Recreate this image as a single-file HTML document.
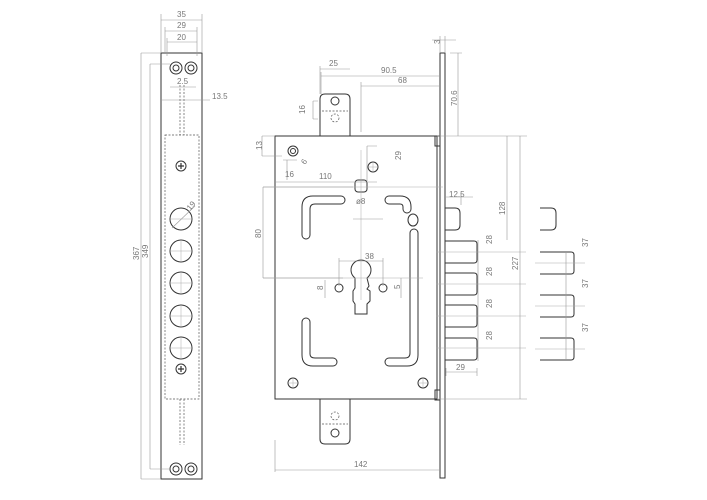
<!DOCTYPE html>
<html><head><meta charset="utf-8"><style>
html,body{margin:0;padding:0;background:#fff;}
svg{display:block}
text{font-family:"Liberation Sans",sans-serif;font-size:8px;fill:#777;}
.s{stroke:#333;stroke-width:1;fill:none}
.d{stroke:#999;stroke-width:0.6;fill:none}
.h{stroke:#555;stroke-width:0.7;fill:none;stroke-dasharray:2 1.5}
.c{stroke:#aaa;stroke-width:0.5;fill:none}
</style></head><body>
<svg width="707" height="500" viewBox="0 0 707 500" xmlns="http://www.w3.org/2000/svg">
<!-- Left bar -->
<rect class="s" x="161" y="53" width="41" height="426"/>
<rect class="h" x="165" y="135" width="34" height="264"/>
<line class="h" x1="180" y1="85" x2="180" y2="135"/><line class="h" x1="184" y1="85" x2="184" y2="135"/>
<line class="h" x1="180" y1="399" x2="180" y2="445"/><line class="h" x1="184" y1="399" x2="184" y2="445"/>
<g class="s">
<circle cx="176" cy="68" r="6"/><circle cx="176" cy="68" r="3"/>
<circle cx="191" cy="68" r="6"/><circle cx="191" cy="68" r="3"/>
<circle cx="176" cy="469" r="6"/><circle cx="176" cy="469" r="3"/>
<circle cx="191" cy="469" r="6"/><circle cx="191" cy="469" r="3"/>
<circle cx="181" cy="166" r="5"/><circle cx="181" cy="369" r="5"/>
<circle cx="181" cy="219" r="11"/><circle cx="181" cy="251" r="11"/><circle cx="181" cy="283" r="11"/><circle cx="181" cy="316" r="11"/><circle cx="181" cy="348" r="11"/>
</g>
<path d="M178 166h6M181 163v6M178 369h6M181 366v6" stroke="#333" stroke-width="1.2"/>
<g class="c"><path d="M170 219h22M170 251h22M181 240v22M170 283h22M181 272v22M170 316h22M181 305v22M170 348h22M181 337v22"/></g>
<line class="d" x1="172" y1="228" x2="195" y2="206"/>
<text x="188" y="210" transform="rotate(-50 190 208)">19</text>
<!-- Left bar dims -->
<g class="d">
<path d="M161 20h41M161 14v39M202 14v39M165 31h32M165 27v26M197 27v26M167 42h30M167 38v18M197 38v18"/>
<path d="M141 53v426M141 53h20M141 479h20M150 64v405M150 64h20M150 469h20"/>
<path d="M170 87h26M160 100h50"/>
</g>
<text x="177" y="17">35</text><text x="177" y="28">29</text><text x="177" y="40">20</text>
<text x="177" y="84">2.5</text><text x="212" y="99">13.5</text>
<text x="139" y="260" transform="rotate(-90 139 260)">367</text>
<text x="148" y="258" transform="rotate(-90 148 258)">349</text>

<!-- Main case -->
<rect class="s" x="275" y="136" width="162" height="263"/>
<rect class="s" x="440" y="53" width="5" height="425"/>
<rect class="s" x="435" y="136" width="5" height="10"/><rect class="s" x="435" y="390" width="5" height="10"/>
<path class="s" d="M320 136V99q0-5 5-5h20q5 0 5 5v37"/>
<path class="s" d="M320 399v40q0 5 5 5h20q5 0 5-5v-40"/>
<line class="h" x1="322" y1="111" x2="348" y2="111"/><line class="h" x1="322" y1="424" x2="348" y2="424"/>
<circle class="s" cx="335" cy="101" r="4"/><circle class="h" cx="335" cy="118" r="4"/>
<circle class="h" cx="335" cy="416" r="4"/><circle class="s" cx="335" cy="433" r="4"/>
<circle class="s" cx="293" cy="151" r="5"/><circle class="s" cx="293" cy="151" r="2.5"/>
<circle class="s" cx="373" cy="167" r="5"/>
<circle class="s" cx="293" cy="383" r="5"/><circle class="s" cx="423" cy="383" r="5"/>
<path class="c" d="M288 383h10M293 378v10M418 383h10M423 378v10M368 167h10M373 162v10"/>
<rect class="s" x="355" y="180" width="12" height="12" rx="3"/>
<!-- handles -->
<path class="s" d="M302 235V207q0-11 11-11h28a4 4 0 0 1 0 8h-26q-5 0-5 5v26a4 4 0 0 1-8 0z"/>
<path class="s" d="M389 196h11q11 0 11 11v2a4 4 0 0 1-8 0v-2q0-3-3-3h-11a4 4 0 0 1 0-8z"/>
<ellipse class="s" cx="413" cy="220" rx="5" ry="6"/>
<path class="s" d="M410 233a4 4 0 0 1 8 0v122q0 11-11 11h-18a4 4 0 0 1 0-8h16q5 0 5-5z"/>
<path class="s" d="M302 322a4 4 0 0 1 8 0v32q0 4 5 4h18a4 4 0 0 1 0 8h-20q-11 0-11-11z"/>
<!-- keyhole -->
<path class="s" d="M355 278a10 10 0 1 1 12 0l2 8-2 3 3 2v10l-3 3v10h-12v-10l-2-3v-10l2-3z"/>
<circle class="s" cx="339" cy="288" r="4"/><circle class="s" cx="383" cy="288" r="4"/>
<!-- bolts -->
<path class="s" d="M445 208h10q5 0 5 5v12q0 5-5 5h-10"/>
<path class="s" d="M445 241h29q3 0 3 3v16q0 3-3 3h-29M445 273h29q3 0 3 3v16q0 3-3 3h-29M445 305h29q3 0 3 3v16q0 3-3 3h-29M445 338h29q3 0 3 3v16q0 3-3 3h-29"/>
<path class="s" d="M540 208h11q5 0 5 5v12q0 5-5 5h-11"/>
<path class="s" d="M540 252h31q3 0 3 3v16q0 3-3 3h-31M540 295h31q3 0 3 3v16q0 3-3 3h-31M540 338h31q3 0 3 3v16q0 3-3 3h-31"/>
<!-- center lines -->
<g class="c">
<path d="M361 150v150M263 187h180M263 278h160M436 252h90M436 284h90M436 316h90M436 348h90M535 263h50M535 306h50M535 349h50"/>
</g>
<!-- dims main -->
<g class="d">
<path d="M432 40h24M440 36v17M445 36v17M321 76h119M321 72v22M361 86h79M361 82v50M450 53h12M458 53v83"/>
<path d="M320 69h30M320 66v28M313 101v18M313 101h5M313 119h5M262 136v20M262 136h13M262 156h20M283 160h14M287 160v20"/>
<path d="M275 182h102M367 146v35M367 146h10M263 187v91M263 187h90M263 278h80M353 219h30M339 261h44M339 258v28M383 258v28"/>
<path d="M325 280v18M401 278v20M446 197h27M461 193v12"/>
<path d="M478 240v43M478 273v32M478 305v33M478 338v23M507 136v104M520 136v263M437 136h90M437 399h90M566 252v108M446 372h31M446 368v8M477 368v8M275 470h165M275 440v32"/>
</g>
<text x="440" y="44" transform="rotate(-90 440 44)">3</text>
<text x="381" y="73">90.5</text><text x="398" y="83">68</text>
<text x="329" y="66">25</text>
<text x="305" y="114" transform="rotate(-90 305 114)">16</text>
<text x="262" y="150" transform="rotate(-90 262 150)">13</text>
<text x="285" y="177">16</text><text x="305" y="165" transform="rotate(-55 305 165)">6</text>
<text x="319" y="179">110</text>
<text x="401" y="160" transform="rotate(-90 401 160)">29</text>
<text x="457" y="106" transform="rotate(-90 457 106)">70.6</text>
<text x="356" y="204">ø8</text>
<text x="261" y="238" transform="rotate(-90 261 238)">80</text>
<text x="365" y="259">38</text>
<text x="323" y="290" transform="rotate(-90 323 290)">8</text>
<text x="400" y="289" transform="rotate(-90 400 289)">5</text>
<text x="449" y="197">12.5</text>
<text x="492" y="244" transform="rotate(-90 492 244)">28</text>
<text x="492" y="276" transform="rotate(-90 492 276)">28</text>
<text x="492" y="308" transform="rotate(-90 492 308)">28</text>
<text x="492" y="340" transform="rotate(-90 492 340)">28</text>
<text x="505" y="215" transform="rotate(-90 505 215)">128</text>
<text x="518" y="270" transform="rotate(-90 518 270)">227</text>
<text x="588" y="247" transform="rotate(-90 588 247)">37</text>
<text x="588" y="288" transform="rotate(-90 588 288)">37</text>
<text x="588" y="332" transform="rotate(-90 588 332)">37</text>
<text x="456" y="370">29</text>
<text x="354" y="467">142</text>
</svg>
</body></html>
